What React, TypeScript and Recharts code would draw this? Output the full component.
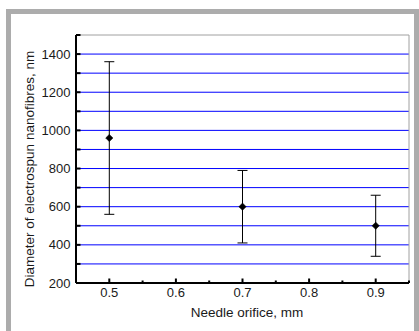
import React from 'react';
import { ComposedChart, Scatter, XAxis, YAxis, ErrorBar, ReferenceLine } from 'recharts';

const orifice = [0.5, 0.7, 0.9];
const diameter = [960, 600, 500];
const diameterError = [400, 190, 160];

const xTicks = [0.45, 0.5, 0.55, 0.6, 0.65, 0.7, 0.75, 0.8, 0.85, 0.9, 0.95];
const xTickLabels = ['', '0.5', '', '0.6', '', '0.7', '', '0.8', '', '0.9', ''];
const yTicks = [200, 300, 400, 500, 600, 700, 800, 900, 1000, 1100, 1200, 1300, 1400, 1500];
const yTickLabels = ['200', '', '400', '', '600', '', '800', '', '1000', '', '1200', '', '1400', ''];
const gridValues = [300, 400, 500, 600, 700, 800, 900, 1000, 1100, 1200, 1300, 1400];

const xTitle = 'Needle orifice, mm';
const yTitle = 'Diameter of electrospun nanofibres, nm';

const data = orifice.map((x, i) => ({ x, y: diameter[i], err: diameterError[i] }));

const FONT = '"Liberation Sans", Arial, sans-serif';

const XTick = (props: any) => {
  const { x, y, payload } = props;
  const i = xTicks.findIndex((t) => Math.abs(t - payload.value) < 1e-9);
  const label = i >= 0 ? xTickLabels[i] : '';
  const major = label !== '';
  return (
    <g>
      <line x1={x} x2={x} y1={y} y2={y - (major ? 4.5 : 2.5)} stroke="#000" strokeWidth={2} />
      {major && (
        <text x={x} y={y + 14} textAnchor="middle" fontSize={13} fontFamily={FONT} fill="#1a1a1a">
          {label}
        </text>
      )}
    </g>
  );
};

const YTick = (props: any) => {
  const { x, y, payload } = props;
  const i = yTicks.findIndex((t) => Math.abs(t - payload.value) < 1e-9);
  const label = i >= 0 ? yTickLabels[i] : '';
  return (
    <g>
      <line x1={x} x2={x + 4.5} y1={y} y2={y} stroke="#000" strokeWidth={2} />
      {label !== '' && (
        <text x={x - 5.5} y={y} dy="0.35em" textAnchor="end" fontSize={13} fontFamily={FONT} fill="#1a1a1a">
          {label}
        </text>
      )}
    </g>
  );
};

const Diamond = (props: any) => {
  const { cx, cy } = props;
  const r = 3.6;
  return <path d={`M${cx},${cy - r}L${cx + r},${cy}L${cx},${cy + r}L${cx - r},${cy}Z`} fill="#000" stroke="#000" strokeWidth={0.6} />;
};

const YTitle = () => (
  <text
    x={33.5}
    y={169}
    transform="rotate(-90, 33.5, 169)"
    textAnchor="middle"
    fontSize={13.5}
    fontFamily={FONT}
    fill="#1a1a1a"
  >
    {yTitle}
  </text>
);

const XTitle = () => (
  <text x={247} y={316.5} textAnchor="middle" fontSize={13.5} fontFamily={FONT} fill="#1a1a1a">
    {xTitle}
  </text>
);

export default function App() {
  return (
    <div style={{ position: 'absolute', left: 0, top: 0, width: 419, height: 331, overflow: 'hidden', background: '#fff' }}>
      <div
        style={{
          position: 'absolute',
          left: 6,
          top: 9,
          width: 413,
          height: 340,
          boxSizing: 'border-box',
          border: '5px solid #acacac',
          background: '#fff',
        }}
      />
      <div style={{ position: 'absolute', left: 0, top: 0 }}>
        <ComposedChart width={419} height={331} data={data} margin={{ top: 35, right: 10, left: 16, bottom: 18 }}>
          {gridValues.map((v) => (
            <ReferenceLine key={v} y={v} stroke="#0000ff" strokeWidth={1} />
          ))}
          <ReferenceLine y={1500} stroke="#a0a0a0" strokeWidth={1} />
          <ReferenceLine x={0.95} stroke="#a0a0a0" strokeWidth={1} />
          <XAxis
            type="number"
            dataKey="x"
            domain={[0.45, 0.95]}
            ticks={xTicks}
            interval={0}
            height={30}
            tickSize={0}
            tickMargin={0}
            tickLine={false}
            axisLine={{ stroke: '#000', strokeWidth: 2 }}
            tick={<XTick />}
            label={<XTitle />}
            allowDataOverflow
          />
          <YAxis
            type="number"
            domain={[200, 1500]}
            ticks={yTicks}
            interval={0}
            width={60}
            tickSize={0}
            tickMargin={0}
            tickLine={false}
            axisLine={{ stroke: '#000', strokeWidth: 2 }}
            tick={<YTick />}
            label={<YTitle />}
            allowDataOverflow
          />
          <Scatter dataKey="y" fill="#000" shape={<Diamond />} isAnimationActive={false}>
            <ErrorBar dataKey="err" direction="y" width={5} stroke="#000" strokeWidth={1} />
          </Scatter>
        </ComposedChart>
      </div>
    </div>
  );
}
